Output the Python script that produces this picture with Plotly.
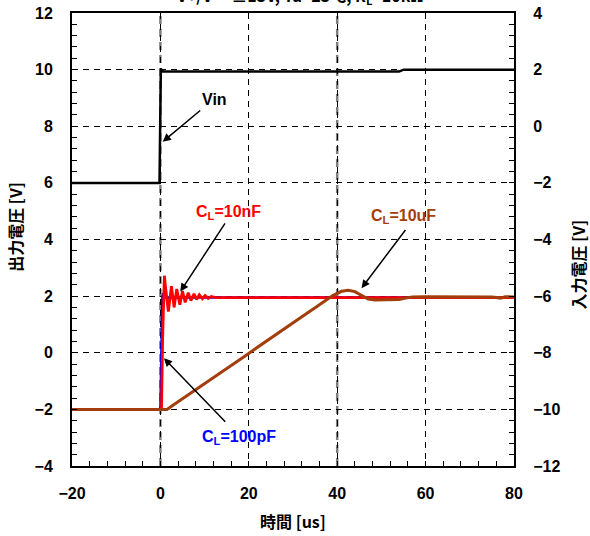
import plotly.graph_objects as go

# ---- data ----
vin_t = [-20, -0.2, 0.1, 0.6, 54, 55, 80]
vin_v = [-2.0, -2.0, 2.03, 1.93, 1.93, 2.0, 2.0]

pf_t = [-20, 0.0, 0.15, 0.3, 0.45, 0.7, 1.0, 80]
pf_v = [-2.0, -2.0, -0.6, 0.9, 2.0, 2.1, 1.95, 1.95]

nf_t = [-20, 0.25, 0.5, 0.9, 1.1, 1.8, 2.5, 3.1, 3.7, 4.4, 5.0, 5.6, 6.3, 6.9, 7.6, 8.2, 8.8, 9.5, 10.1, 10.8, 11.5, 12.5, 80]
nf_v = [-2.0, -2.0, 0.5, 2.72, 2.4, 1.45, 2.35, 1.6, 2.25, 1.7, 2.18, 1.78, 2.12, 1.84, 2.08, 1.88, 2.05, 1.91, 2.02, 1.92, 1.99, 1.95, 1.95]

uf_t = [-20, 1.5, 3, 5, 7, 9, 11, 13, 15, 17, 19, 21, 23, 25, 27, 29, 31, 33, 35, 37, 39, 41, 42.5, 44, 45.5, 47, 48.5, 50, 52, 54, 55.5, 57, 60, 65, 70, 75, 77, 78, 80]
uf_v = [-2.0, -2.0, -1.84, -1.63, -1.42, -1.19, -0.99, -0.77, -0.56, -0.34, -0.13, 0.09, 0.31, 0.52, 0.73, 0.95, 1.16, 1.38, 1.59, 1.81, 2.02, 2.17, 2.21, 2.16, 2.03, 1.9, 1.86, 1.86, 1.87, 1.88, 1.93, 1.97, 1.98, 1.97, 1.98, 1.97, 1.93, 1.98, 1.97]

x_ticks = [-20, 0, 20, 40, 60, 80]
y1_ticks = [-4, -2, 0, 2, 4, 6, 8, 10, 12]
y2_ticks = [-12, -10, -8, -6, -4, -2, 0, 2, 4]

BROWN = "#A33E0C"
FONT_NUM = "Liberation Sans"
FONT_JP = "Noto Sans CJK JP"

fig = go.Figure()
fig.add_trace(go.Scatter(x=pf_t, y=pf_v, mode="lines", line=dict(color="#0000FF", width=2.5), yaxis="y"))
fig.add_trace(go.Scatter(x=nf_t, y=nf_v, mode="lines", line=dict(color="#FF0000", width=2.8), yaxis="y"))
fig.add_trace(go.Scatter(x=uf_t, y=uf_v, mode="lines", line=dict(color=BROWN, width=3), yaxis="y"))
fig.add_trace(go.Scatter(x=vin_t, y=vin_v, mode="lines", line=dict(color="#000000", width=2.5), yaxis="y2"))

tickfont = dict(family=FONT_NUM, size=16, color="black", weight="bold")

fig.update_layout(
    width=590, height=536,
    margin=dict(l=72, r=76, t=13, b=70, autoexpand=False),
    paper_bgcolor="white", plot_bgcolor="white",
    showlegend=False,
    xaxis=dict(range=[-20, 80], tickvals=x_ticks, ticks="inside", ticklen=5, tickcolor="black",
               showline=True, linecolor="black", linewidth=2, mirror=True, automargin=False,
               showgrid=True, gridcolor="black", gridwidth=1, griddash="6px,5px",
               zeroline=False, tickfont=tickfont, ticklabelstandoff=12,
               minor=dict(dtick=4, ticks="inside", ticklen=5, tickcolor="black", showgrid=False)),
    yaxis=dict(range=[-4, 12], tickvals=y1_ticks, ticks="inside", ticklen=5, tickcolor="black",
               showline=True, linecolor="black", linewidth=2, automargin=False,
               showgrid=True, gridcolor="black", gridwidth=1, griddash="6px,5px",
               zeroline=False, tickfont=tickfont, ticklabelstandoff=14,
               minor=dict(dtick=0.4, ticks="inside", ticklen=5, tickcolor="black", showgrid=False)),
    yaxis2=dict(range=[-12, 4], tickvals=y2_ticks, ticks="inside", ticklen=5, tickcolor="black",
                overlaying="y", side="right", automargin=False,
                showline=True, linecolor="black", linewidth=2,
                showgrid=False, zeroline=False, tickfont=tickfont, ticklabelstandoff=14,
                minor=dict(dtick=0.4, ticks="inside", ticklen=5, tickcolor="black", showgrid=False)),
)

# emphasised vertical grid lines at 0 and 40
for xv in [0, 40]:
    fig.add_shape(type="line", xref="x", yref="paper", x0=xv, x1=xv, y0=0, y1=1,
                  line=dict(color="#7f7f7f", width=2.5, dash="8px,5px"), layer="below")

lab = dict(family=FONT_NUM, size=16, weight="bold")
ann = []
# text labels
ann.append(dict(x=12.35, y=8.93, xref="x", yref="y", text="Vin", showarrow=False,
                font=dict(lab, color="black")))
ann.append(dict(x=15.3, y=4.97, xref="x", yref="y", text="C<sub>L</sub>=10nF", showarrow=False,
                font=dict(lab, color="#FF0000")))
ann.append(dict(x=55.1, y=4.83, xref="x", yref="y", text="C<sub>L</sub>=10uF", showarrow=False,
                font=dict(lab, color=BROWN)))
ann.append(dict(x=17.8, y=-3.0, xref="x", yref="y", text="C<sub>L</sub>=100pF", showarrow=False,
                font=dict(lab, color="#0000FF")))
# arrows
arrows = [((0.52, 7.45), (9.34, 8.60)),
          ((4.5, 2.16), (14.84, 4.62)),
          ((45.5, 2.28), (55.7, 4.39)),
          ((0.8, -0.19), (15.0, -2.49))]
for (tx, ty), (sx, sy) in arrows:
    ann.append(dict(x=tx, y=ty, ax=sx, ay=sy, xref="x", yref="y", axref="x", ayref="y",
                    text="", showarrow=True, arrowhead=2, arrowsize=1.1, arrowwidth=1.5,
                    arrowcolor="black", standoff=0, startstandoff=0))
# axis titles
jp = dict(family=FONT_JP, size=16, color="black", weight="bold")
ann.append(dict(x=0.5, y=-0.121, xref="paper", yref="paper", xanchor="center", yanchor="middle",
                text="時間 [us]", showarrow=False, font=jp))
ann.append(dict(x=-0.129, y=0.528, xref="paper", yref="paper", xanchor="center", yanchor="middle",
                text="出力電圧 [V]", showarrow=False, textangle=-90, font=jp))
ann.append(dict(x=1.145, y=0.445, xref="paper", yref="paper", xanchor="center", yanchor="middle",
                text="入力電圧 [V]", showarrow=False, textangle=-90, font=jp))
# clipped title at top
ann.append(dict(x=0.514, y=1.006, xref="paper", yref="paper", xanchor="center", yanchor="bottom",
                text="V+/V−=±15V, Ta=25℃, R<sub>L</sub>=10kΩ", showarrow=False,
                font=dict(family=FONT_JP, size=16, color="black", weight="bold")))
fig.update_layout(annotations=ann)

fig.write_html("out.html", config={"displayModeBar": False},
               post_script="document.body.style.margin='0';document.body.style.padding='0';")
